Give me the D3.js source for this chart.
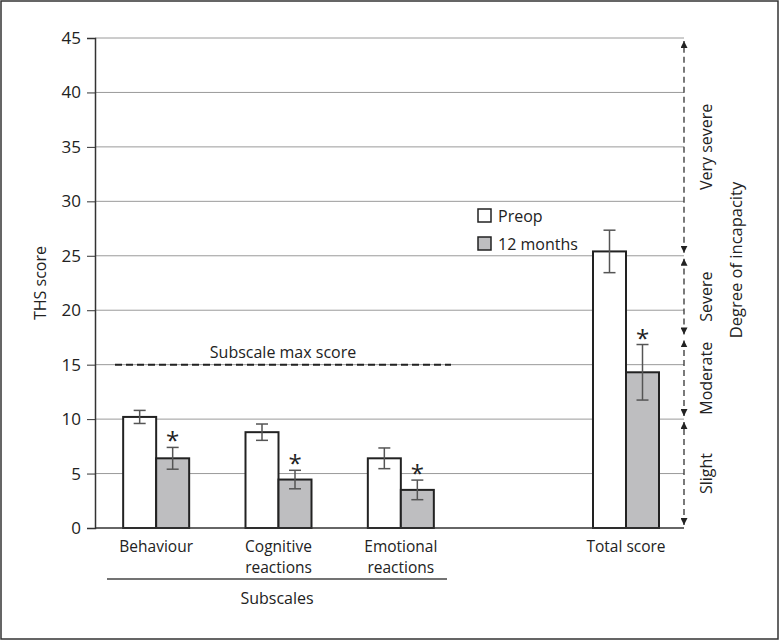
<!DOCTYPE html>
<html>
<head>
<meta charset="utf-8">
<script src="https://cdn.jsdelivr.net/npm/d3@7/dist/d3.min.js"></script>
<style>
  body { margin: 0; background: #fff; }
  svg { font-family: "Open Sans", "Noto Sans", sans-serif; fill: #222; }
</style>
</head>
<body>
<svg id="chart" width="779" height="641"></svg>
<script>
const subscales = ["Behaviour", "Cognitive reactions", "Emotional reactions"];
const totalCat = ["Total score"];
const series = ["Preop", "12 months"];
const preop = [10.2, 8.8, 6.4, 25.4];
const preopErr = [0.6, 0.75, 0.95, 1.95];
const month12 = [6.4, 4.45, 3.5, 14.3];
const month12Err = [1.0, 0.85, 0.9, 2.55];
const yTicks = [0, 5, 10, 15, 20, 25, 30, 35, 40, 45];
const subscaleMax = 15;
const severity = ["Slight", "Moderate", "Severe", "Very severe"];
const severityBounds = [0, 10, 17.5, 25, 45];

const svg = d3.select("#chart");
const width = 779, height = 641;

// frame
svg.append("rect")
  .attr("x", 1).attr("y", 1)
  .attr("width", width - 2).attr("height", height - 3)
  .attr("fill", "none").attr("stroke", "#333").attr("stroke-width", 1.5);

const mLeft = 95, mRight = 684, mTop = 38, mBottom = 528;

const y = d3.scaleLinear().domain([0, 45]).range([mBottom, mTop]);
const xSub = d3.scaleBand().domain(subscales).range([95, 462]);
const xTot = d3.scaleBand().domain(totalCat).range([565, 687]);
const xSer = d3.scaleBand().domain(series).range([-33, 33]);

const cats = subscales.concat(totalCat);
const center = c => subscales.includes(c) ? xSub(c) + xSub.bandwidth() / 2 : xTot(c) + xTot.bandwidth() / 2;

// gridlines
svg.append("g")
  .selectAll("line")
  .data(yTicks.filter(d => d > 0))
  .enter().append("line")
  .attr("x1", mLeft).attr("x2", mRight)
  .attr("y1", d => y(d)).attr("y2", d => y(d))
  .attr("stroke", "#9a9a9a").attr("stroke-width", 1);

// y axis
const yAxis = svg.append("g")
  .attr("transform", `translate(${mLeft},0)`)
  .call(d3.axisLeft(y).tickValues(yTicks).tickSize(8).tickPadding(6));
yAxis.select(".domain").attr("stroke", "#333").attr("stroke-width", 1.5);
yAxis.selectAll(".tick line").attr("stroke", "#333");
yAxis.selectAll("text").attr("font-size", 17).attr("fill", "#222")
  .attr("font-family", "Open Sans, Noto Sans, sans-serif");

svg.append("text")
  .attr("transform", `translate(46,${(mTop + mBottom) / 2}) rotate(-90)`)
  .attr("text-anchor", "middle")
  .attr("font-size", 16)
  .text("THS score");

// subscale max line
svg.append("line")
  .attr("x1", 115).attr("x2", 451)
  .attr("y1", y(subscaleMax)).attr("y2", y(subscaleMax))
  .attr("stroke", "#222").attr("stroke-width", 2)
  .attr("stroke-dasharray", "7,4");
svg.append("text")
  .attr("x", 283).attr("y", y(subscaleMax) - 7)
  .attr("text-anchor", "middle").attr("font-size", 16)
  .text("Subscale max score");

// bars
const barData = [];
cats.forEach((c, i) => {
  barData.push({ cat: c, s: "Preop", v: preop[i], e: preopErr[i] });
  barData.push({ cat: c, s: "12 months", v: month12[i], e: month12Err[i] });
});

const bars = svg.append("g");
bars.selectAll("rect")
  .data(barData)
  .enter().append("rect")
  .attr("x", d => center(d.cat) + xSer(d.s))
  .attr("width", xSer.bandwidth())
  .attr("y", d => y(d.v))
  .attr("height", d => y(0) - y(d.v))
  .attr("fill", d => d.s === "Preop" ? "#fff" : "#bebec0")
  .attr("stroke", "#222").attr("stroke-width", 2);

// error bars
const err = svg.append("g").attr("stroke", "#555").attr("stroke-width", 1.5);
barData.forEach(d => {
  const cx = center(d.cat) + xSer(d.s) + xSer.bandwidth() / 2;
  err.append("line").attr("x1", cx).attr("x2", cx).attr("y1", y(d.v + d.e)).attr("y2", y(d.v - d.e));
  err.append("line").attr("x1", cx - 6).attr("x2", cx + 6).attr("y1", y(d.v + d.e)).attr("y2", y(d.v + d.e));
  err.append("line").attr("x1", cx - 6).attr("x2", cx + 6).attr("y1", y(d.v - d.e)).attr("y2", y(d.v - d.e));
});

// asterisks
svg.append("g")
  .selectAll("text")
  .data(barData.filter(d => d.s === "12 months"))
  .enter().append("text")
  .attr("x", d => center(d.cat) + xSer(d.s) + xSer.bandwidth() / 2)
  .attr("y", d => y(d.v + d.e) + 2)
  .attr("text-anchor", "middle")
  .attr("font-size", 24)
  .text("*");

// x axis baseline
svg.append("line")
  .attr("x1", mLeft).attr("x2", mRight)
  .attr("y1", mBottom).attr("y2", mBottom)
  .attr("stroke", "#333").attr("stroke-width", 1.5);

// category labels, one text per line
cats.forEach(c => {
  const lines = c === "Total score" ? [c] : c.split(" ");
  lines.forEach((l, i) => {
    svg.append("text")
      .attr("x", center(c)).attr("y", 552 + i * 21)
      .attr("text-anchor", "middle").attr("font-size", 15.5)
      .text(l);
  });
});

svg.append("line")
  .attr("x1", 107).attr("x2", 447)
  .attr("y1", 579).attr("y2", 579)
  .attr("stroke", "#444").attr("stroke-width", 1.5);
svg.append("text")
  .attr("x", 277).attr("y", 604)
  .attr("text-anchor", "middle").attr("font-size", 16)
  .text("Subscales");

// legend
const legend = svg.append("g").attr("transform", "translate(478,209)");
series.forEach((s, i) => {
  const g = legend.append("g").attr("transform", `translate(0,${i * 28})`);
  g.append("rect").attr("width", 13).attr("height", 13)
    .attr("fill", i === 0 ? "#fff" : "#bebec0")
    .attr("stroke", "#222").attr("stroke-width", 1.5);
  g.append("text").attr("x", 20).attr("y", 13).attr("font-size", 16).text(s);
});

// severity arrows
const defs = svg.append("defs");
defs.append("marker")
  .attr("id", "arr")
  .attr("viewBox", "0 0 10 10")
  .attr("refX", 10).attr("refY", 5)
  .attr("markerWidth", 7).attr("markerHeight", 7)
  .attr("markerUnits", "userSpaceOnUse")
  .attr("orient", "auto-start-reverse")
  .append("path").attr("d", "M0,0 L10,5 L0,10 z").attr("fill", "#222");

const ax = 684;
severity.forEach((s, i) => {
  svg.append("line")
    .attr("x1", ax).attr("x2", ax)
    .attr("y1", y(severityBounds[i]) - 3)
    .attr("y2", y(severityBounds[i + 1]) + 3)
    .attr("stroke", "#333").attr("stroke-width", 1.3)
    .attr("stroke-dasharray", "6,4")
    .attr("marker-start", "url(#arr)")
    .attr("marker-end", "url(#arr)");
  svg.append("text")
    .attr("transform", `translate(712,${y((severityBounds[i] + severityBounds[i + 1]) / 2)}) rotate(-90)`)
    .attr("text-anchor", "middle").attr("font-size", 16)
    .text(s);
});

svg.append("text")
  .attr("transform", `translate(742,260) rotate(-90)`)
  .attr("text-anchor", "middle").attr("font-size", 16.5)
  .text("Degree of incapacity");
</script>
</body>
</html>
